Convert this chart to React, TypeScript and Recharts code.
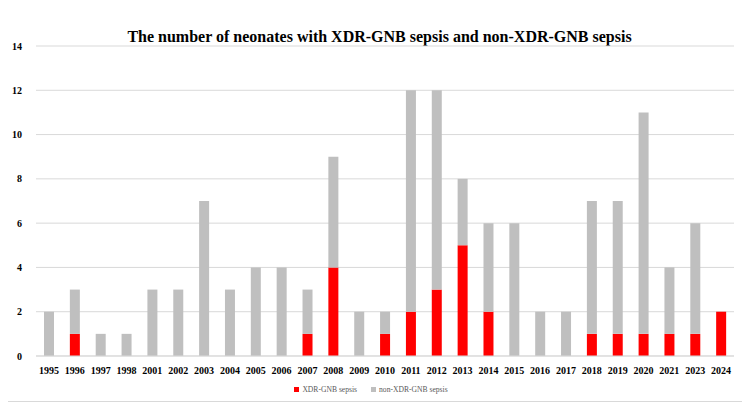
import React from 'react';
import { BarChart, Bar, XAxis, YAxis, CartesianGrid, Legend } from 'recharts';

const years = [
  '1995', '1996', '1997', '1998', '2001', '2002', '2003', '2004', '2005',
  '2006', '2007', '2008', '2009', '2010', '2011', '2012', '2013', '2014',
  '2015', '2016', '2017', '2018', '2019', '2020', '2021', '2023', '2024',
];
const xdrCases = [0, 1, 0, 0, 0, 0, 0, 0, 0, 0, 1, 4, 0, 1, 2, 3, 5, 2, 0, 0, 0, 1, 1, 1, 1, 1, 2];
const nonXdrCases = [2, 2, 1, 1, 3, 3, 7, 3, 4, 4, 2, 5, 2, 1, 10, 9, 3, 4, 6, 2, 2, 6, 6, 10, 3, 5, 0];
const yTicks = [0, 2, 4, 6, 8, 10, 12, 14];

const SERIF = '"Palatino Linotype", "Book Antiqua", Palatino, "Liberation Serif", serif';

const chartData = years.map((year, i) => ({
  year,
  xdr: xdrCases[i],
  nonXdr: nonXdrCases[i],
}));

const renderLegend = () => (
  <div
    style={{
      display: 'flex',
      justifyContent: 'center',
      gap: 14,
      paddingTop: 3,
      fontFamily: SERIF,
      fontSize: 7.6,
      color: '#595959',
    }}
  >
    <span style={{ display: 'flex', alignItems: 'center' }}>
      <span style={{ width: 5, height: 5, background: '#FF0000', marginRight: 3 }} />
      XDR-GNB sepsis
    </span>
    <span style={{ display: 'flex', alignItems: 'center' }}>
      <span style={{ width: 5, height: 5, background: '#BFBFBF', marginRight: 3 }} />
      non-XDR-GNB sepsis
    </span>
  </div>
);

export default function App() {
  return (
    <div style={{ position: 'relative', width: 735, height: 393, border: '1px solid #D9D9D9', marginLeft: -1, marginTop: -1, background: '#fff' }}>
      <div
        style={{
          position: 'absolute',
          top: 20,
          left: 4,
          width: '100%',
          textAlign: 'center',
          fontFamily: SERIF,
          fontWeight: 'bold',
          fontSize: 16,
          color: '#000',
        }}
      >
        The number of neonates with XDR-GNB sepsis and non-XDR-GNB sepsis
      </div>
      <BarChart
        width={735}
        height={393}
        data={chartData}
        margin={{ top: 38, right: 9, left: 0, bottom: 0 }}
        barSize={10}
      >
        <CartesianGrid vertical={false} stroke="#D9D9D9" />
        <XAxis
          dataKey="year"
          tickLine={false}
          axisLine={{ stroke: '#D9D9D9' }}
          interval={0}
          height={26}
          tick={{ fontFamily: SERIF, fontSize: 10, fontWeight: 'bold', fill: '#000' }}
          tickMargin={5}
        />
        <YAxis
          domain={[0, 14]}
          ticks={yTicks}
          width={28}
          tickLine={false}
          axisLine={false}
          tick={{ fontFamily: SERIF, fontSize: 10, fontWeight: 'bold', fill: '#000' }}
          tickMargin={8}
        />
        <Legend verticalAlign="bottom" height={19} content={renderLegend} />
        <Bar dataKey="xdr" stackId="a" fill="#FF0000" name="XDR-GNB sepsis" isAnimationActive={false} />
        <Bar dataKey="nonXdr" stackId="a" fill="#BFBFBF" name="non-XDR-GNB sepsis" isAnimationActive={false} />
      </BarChart>
    </div>
  );
}
